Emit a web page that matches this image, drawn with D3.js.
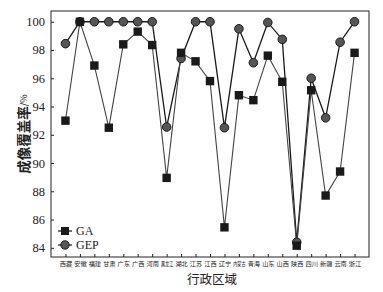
<!DOCTYPE html>
<html><head><meta charset="utf-8">
<script src="https://cdn.jsdelivr.net/npm/d3@7"></script>
<style>html,body{margin:0;padding:0;background:#fff;}svg{display:block;}</style>
</head><body><svg id="c" width="383" height="292"></svg>
<script>
const categories = ["西藏","安徽","福建","甘肃","广东","广西","河南","黑龙江","湖北","江苏","江西","辽宁","内蒙古","青海","山东","山西","陕西","四川","新疆","云南","浙江"];
const gaValues  = [93.0,100,96.9,92.5,98.4,99.3,98.35,88.95,97.8,97.2,95.8,85.45,94.8,94.45,97.6,95.75,84.15,95.15,87.7,89.4,97.8];
const gepValues = [98.45,100,100,100,100,100,100,92.55,97.4,100,100,92.5,99.5,97.1,99.95,98.75,84.4,96.0,93.2,98.55,100];
const yTicks = [84,86,88,90,92,94,96,98,100];
const seriesNames = ["GA","GEP"];

const svg = d3.select("#c");
const L = 51, R = 369, T = 11, B = 257;
const x = d3.scalePoint().domain(categories).range([L, R]).padding(1);
const y = d3.scaleLinear().domain([83.35, 100.76]).range([B, T]);
const serif = "'Liberation Serif','DejaVu Serif',serif";
const cjk = "'Noto Sans CJK SC',sans-serif";

// axes (ticks inward)
const yAx = svg.append("g").attr("transform", `translate(${L},0)`)
  .call(d3.axisLeft(y).tickValues(yTicks).tickSize(-3).tickPadding(6).tickFormat(d3.format("d")));
yAx.selectAll("text").attr("font-family", serif).attr("font-size", 12.5).attr("fill", "#222");
yAx.select(".domain").remove();
yAx.selectAll("line").attr("stroke", "#222");

const xAx = svg.append("g").attr("transform", `translate(0,${B})`)
  .call(d3.axisBottom(x).tickSize(-3).tickPadding(5));
xAx.selectAll("text").attr("font-family", cjk).attr("font-size", 6.2).attr("fill", "#222")
  .each(function(d) { if (d.length > 2) d3.select(this).attr("transform", "scale(0.66,1)"); });
xAx.select(".domain").remove();
xAx.selectAll("line").attr("stroke", "#222");

svg.append("rect").attr("x", L).attr("y", T).attr("width", R - L).attr("height", B - T)
  .attr("fill", "none").attr("stroke", "#222").attr("stroke-width", 1);

const line = d3.line().x((d, i) => x(categories[i])).y(d => y(d));

// GEP
svg.append("path").datum(gepValues).attr("d", line).attr("fill", "none").attr("stroke", "#1a1a1a").attr("stroke-width", 1.3);
// GA
svg.append("path").datum(gaValues).attr("d", line).attr("fill", "none").attr("stroke", "#444").attr("stroke-width", 1.1);

svg.append("g").selectAll("circle").data(gepValues).join("circle")
  .attr("cx", (d, i) => x(categories[i])).attr("cy", d => y(d)).attr("r", 4.3)
  .attr("fill", "#555").attr("stroke", "#1a1a1a").attr("stroke-width", 1);
svg.append("g").selectAll("rect").data(gaValues).join("rect")
  .attr("x", (d, i) => x(categories[i]) - 4.2).attr("y", d => y(d) - 4.2)
  .attr("width", 8.4).attr("height", 8.4).attr("fill", "#1a1a1a");

// legend
const lg = svg.append("g");
[["GA", 231], ["GEP", 245]].forEach(([name, ly], k) => {
  lg.append("line").attr("x1", 58).attr("x2", 72).attr("y1", ly).attr("y2", ly).attr("stroke", "#222").attr("stroke-width", 1.3);
  if (k === 0) lg.append("rect").attr("x", 61).attr("y", ly - 4).attr("width", 8).attr("height", 8).attr("fill", "#1a1a1a");
  else lg.append("circle").attr("cx", 65).attr("cy", ly).attr("r", 4.2).attr("fill", "#555").attr("stroke", "#1a1a1a");
  lg.append("text").attr("x", 76).attr("y", ly + 4.3).attr("font-family", serif).attr("font-size", 12).attr("fill", "#222").text(seriesNames[k]);
});

// axis titles
svg.append("text").attr("x", (L + R) / 2 + 2).attr("y", 284).attr("text-anchor", "middle")
  .attr("font-family", cjk).attr("font-size", 12.5).attr("fill", "#222").text("行政区域");
const yt = svg.append("text").attr("transform", "translate(25,134) rotate(-90)").attr("text-anchor", "middle")
  .attr("dominant-baseline", "middle").attr("font-family", cjk).attr("fill", "#222");
yt.append("tspan").attr("font-size", 13.5).attr("font-weight", "bold").text("成像覆盖率");
yt.append("tspan").attr("font-size", 9).text("/%");
</script></body></html>
